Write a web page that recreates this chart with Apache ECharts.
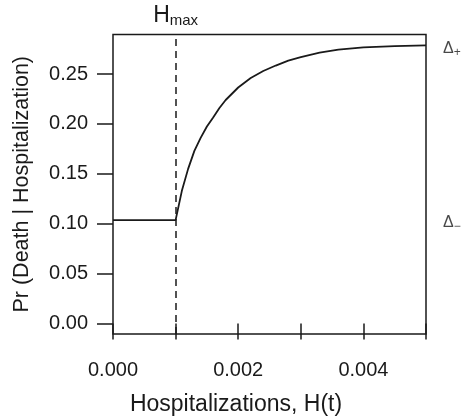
<!DOCTYPE html>
<html>
<head>
<meta charset="utf-8">
<script src="https://cdn.jsdelivr.net/npm/echarts@6/dist/echarts.min.js"></script>
<style>
  html, body { margin: 0; padding: 0; background: #fff; }
  #chart { width: 466px; height: 418px; }
</style>
</head>
<body>
<div id="chart"></div>
<script>
// hospitalizations H(t) and Pr(death | hospitalization)
const hosp = [0, 0.001, 0.0011, 0.0012, 0.0013, 0.0014, 0.0015, 0.0016, 0.0017, 0.0018,
  0.002, 0.0022, 0.0024, 0.0026, 0.0028, 0.003, 0.0033, 0.0036, 0.004, 0.0045, 0.005];
const prob = [0.1037, 0.1037, 0.133, 0.155, 0.173, 0.186, 0.1975, 0.2065, 0.216, 0.224,
  0.2365, 0.246, 0.253, 0.2585, 0.2635, 0.267, 0.2715, 0.2745, 0.2767, 0.278, 0.2787];
const hMax = 0.001;
const deltaMinus = 0.1037;
const deltaPlus = 0.2787;

const xTicks = [0, 0.001, 0.002, 0.003, 0.004, 0.005];
const xLabels = [0, 0.002, 0.004];
const yTicks = [0, 0.05, 0.1, 0.15, 0.2, 0.25];
const yMin = -0.0104;
const yMax = 0.2896;

const font = "'Liberation Sans', Arial, sans-serif";
const ink = "#1a1a1a";

let chart = echarts.init(document.getElementById("chart"), null, { renderer: "canvas" });

let option = {
  animation: false,
  backgroundColor: "#fff",
  grid: {
    left: 113,
    right: 40,
    top: 34.5,
    bottom: 84,
    outerBoundsMode: "none",
    containLabel: false,
    show: true,
    borderColor: ink,
    borderWidth: 1.5,
  },
  xAxis: {
    type: "value",
    min: 0,
    max: 0.005,
    axisLine: { show: false },
    splitLine: { show: false },
    axisTick: {
      show: true,
      length: 16,
      customValues: xTicks,
      lineStyle: { color: ink, width: 1.5 },
    },
    axisLabel: {
      customValues: xLabels,
      margin: 26,
      fontFamily: font,
      fontSize: 20,
      color: ink,
      formatter: (v) => v.toFixed(3),
    },
  },
  yAxis: {
    type: "value",
    min: yMin,
    max: yMax,
    name: "Pr (Death | Hospitalization)",
    nameLocation: "middle",
    nameGap: 80,
    nameTextStyle: { fontFamily: font, fontSize: 21.5, color: ink },
    axisLine: { show: false },
    splitLine: { show: false },
    axisTick: {
      show: true,
      length: 16,
      customValues: yTicks,
      lineStyle: { color: ink, width: 1.5 },
    },
    axisLabel: {
      customValues: yTicks,
      margin: 25,
      fontFamily: font,
      fontSize: 20,
      color: ink,
      formatter: (v) => v.toFixed(2),
    },
  },
  graphic: [
    {
      type: "text",
      x: 236,
      y: 405,
      style: {
        text: "Hospitalizations, H(t)",
        font: "23px " + font,
        fill: ink,
        align: "center",
        verticalAlign: "middle",
      },
    },
  ],
  series: [
    {
      type: "line",
      data: hosp.map((h, i) => [h, prob[i]]),
      symbol: "none",
      smooth: false,
      lineStyle: { color: ink, width: 1.8 },
      markLine: {
        silent: true,
        symbol: "none",
        data: [[{ coord: [hMax, yMin] }, { coord: [hMax, yMax] }]],
        lineStyle: { color: ink, width: 1.5, type: [7, 5] },
        label: {
          position: "end",
          distance: 6,
          formatter: "{h|H}{m|max}",
          rich: {
            h: { fontFamily: font, fontSize: 23, color: ink },
            m: { fontFamily: font, fontSize: 15, color: ink, verticalAlign: "bottom", padding: [10, 0, 0, 0] },
          },
        },
      },
    },
    {
      type: "scatter",
      clip: false,
      symbolSize: 0,
      silent: true,
      data: [
        { value: [0.005, deltaPlus], sign: "+" },
        { value: [0.005, deltaMinus], sign: "\u2212" },
      ],
      label: {
        show: true,
        position: "right",
        distance: 17,
        offset: [0, 3],
        formatter: (p) => "{d|\u0394}{s|" + p.data.sign + "}",
        rich: {
          d: { fontFamily: font, fontSize: 16, color: ink },
          s: { fontFamily: font, fontSize: 12, color: ink, verticalAlign: "bottom", padding: [8, 0, 0, 0] },
        },
      },
    },
  ],
};

chart.setOption(option);
</script>
</body>
</html>
